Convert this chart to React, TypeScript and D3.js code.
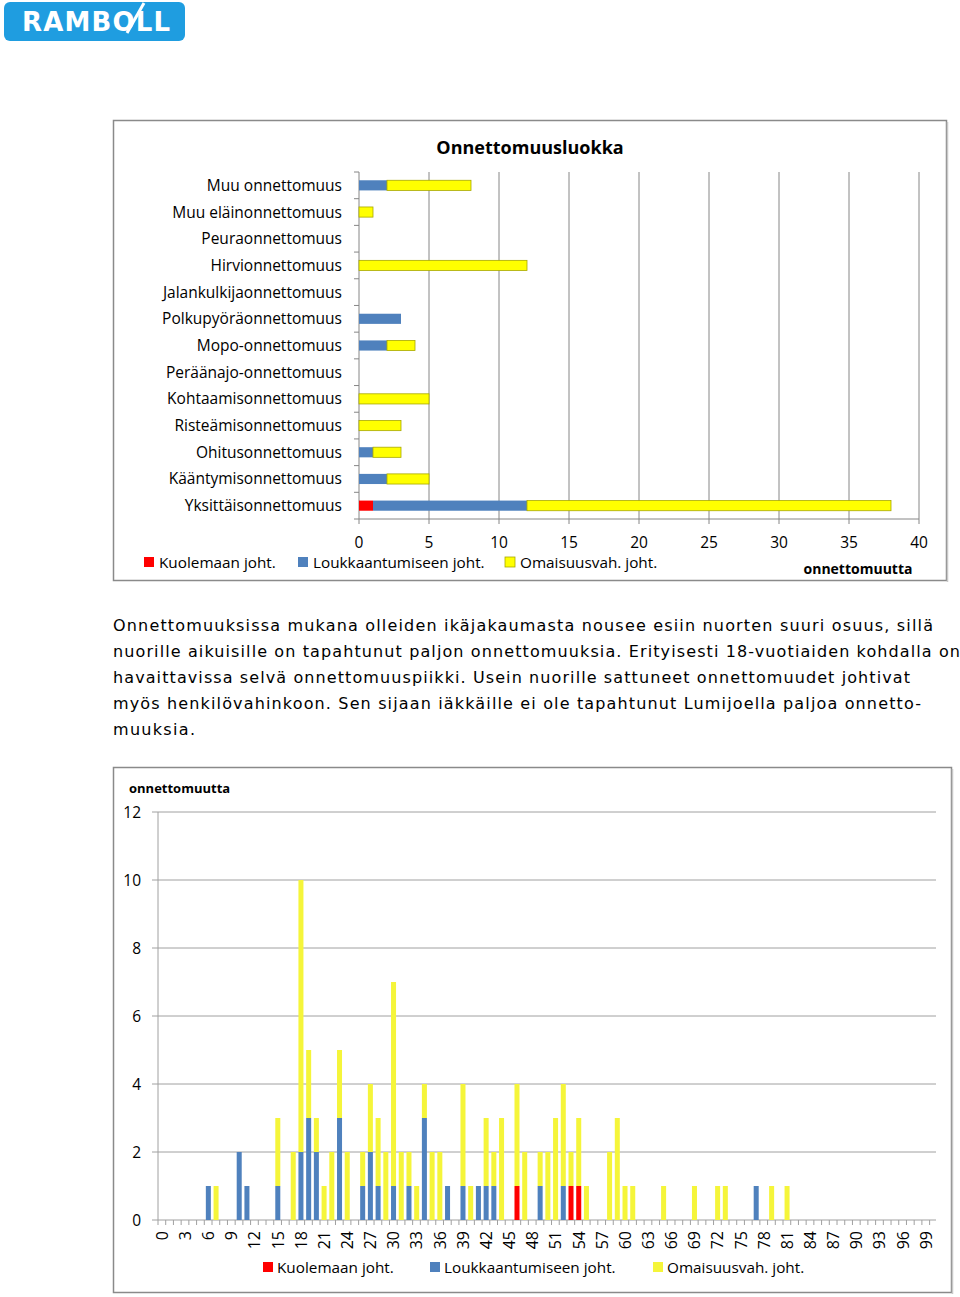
import React from "react";
import * as d3 from "d3";

// ---------- Top chart data ----------
const classCategories = [
  "Muu onnettomuus",
  "Muu eläinonnettomuus",
  "Peuraonnettomuus",
  "Hirvionnettomuus",
  "Jalankulkijaonnettomuus",
  "Polkupyöräonnettomuus",
  "Mopo-onnettomuus",
  "Peräänajo-onnettomuus",
  "Kohtaamisonnettomuus",
  "Risteämisonnettomuus",
  "Ohitusonnettomuus",
  "Kääntymisonnettomuus",
  "Yksittäisonnettomuus",
];
const classDeaths = [0, 0, 0, 0, 0, 0, 0, 0, 0, 0, 0, 0, 1];
const classInjuries = [2, 0, 0, 0, 0, 3, 2, 0, 0, 0, 1, 2, 11];
const classProperty = [6, 1, 0, 12, 0, 0, 2, 0, 5, 3, 2, 3, 26];
const classTicks = [0, 5, 10, 15, 20, 25, 30, 35, 40];

// ---------- Bottom chart data (ages 0..99) ----------
const ages = d3.range(0, 100);
const ageTickLabels = d3.range(0, 100, 3);
const ageYTicks = [0, 2, 4, 6, 8, 10, 12];
// [age, count]
const ageDeaths: [number, number][] = [[46, 1], [53, 1], [54, 1]];
const ageInjuries: [number, number][] = [
  [6, 1], [10, 2], [11, 1], [15, 1], [18, 2], [19, 3], [20, 2], [23, 3], [26, 1], [27, 2],
  [28, 1], [30, 1], [32, 1], [34, 3], [37, 1], [39, 1], [41, 1], [42, 1], [43, 1], [49, 1],
  [52, 1], [77, 1],
];
const ageProperty: [number, number][] = [
  [7, 1], [15, 2], [17, 2], [18, 8], [19, 2], [20, 1], [21, 1], [22, 2], [23, 2], [24, 2],
  [26, 1], [27, 2], [28, 2], [29, 2], [30, 6], [31, 2], [32, 1], [33, 1], [34, 1], [35, 2],
  [36, 2], [39, 3], [40, 1], [42, 2], [43, 1], [44, 3], [46, 3], [47, 2], [49, 1], [50, 2],
  [51, 3], [52, 3], [53, 1], [54, 2], [55, 1], [58, 2], [59, 3], [60, 1], [61, 1], [65, 1],
  [69, 1], [72, 1], [73, 1], [79, 1], [81, 1],
];

const seriesNames = ["Kuolemaan joht.", "Loukkaantumiseen joht.", "Omaisuusvah. joht."];
const seriesColors = ["#ff0000", "#4f81bd", "#ffff00"];

const paragraphLines = [
  "Onnettomuuksissa mukana olleiden ikäjakaumasta nousee esiin nuorten suuri osuus, sillä",
  "nuorille aikuisille on tapahtunut paljon onnettomuuksia. Erityisesti 18-vuotiaiden kohdalla on",
  "havaittavissa selvä onnettomuuspiikki. Usein nuorille sattuneet onnettomuudet johtivat",
  "myös henkilövahinkoon. Sen sijaan iäkkäille ei ole tapahtunut Lumijoella paljoa onnetto-",
  "muuksia.",
];
const paragraphWidths = [820, 847, 797, 808, 82];

const FONT = "'Open Sans', 'Liberation Sans', sans-serif";

function toArray(pairs: [number, number][]) {
  const m = new Map(pairs);
  return ages.map((a) => m.get(a) || 0);
}

function TopChart() {
  const x = d3.scaleLinear().domain([0, 40]).range([359, 919]);
  const y = d3.scaleBand().domain(classCategories).range([172, 519]).paddingInner(0.62).paddingOuter(0.31);
  const rows = classCategories.map((c, i) => [classDeaths[i], classInjuries[i], classProperty[i]]);
  const stacked = d3.stack<number[]>().keys([0, 1, 2] as any).value((d, k: any) => d[k])(rows);
  const step = y.step();
  return (
    <g>
      <rect x={113.5} y={120.5} width={833} height={460} fill="#fff" stroke="#8a8a8a" strokeWidth={1.5} />
      <line x1={947.5} y1={122} x2={947.5} y2={582} stroke="#c8c8c8" strokeWidth={1.5} />
      <text x={530} y={154} textAnchor="middle" fontFamily={FONT} fontWeight="bold" fontSize={18} fill="#000">
        Onnettomuusluokka
      </text>
      {classTicks.slice(1).map((t) => (
        <line key={t} x1={x(t)} x2={x(t)} y1={172} y2={519} stroke="#868686" strokeWidth={1} />
      ))}
      {/* axes */}
      <line x1={359} x2={359} y1={172} y2={519} stroke="#868686" />
      <line x1={359} x2={919} y1={519} y2={519} stroke="#868686" />
      {classCategories.map((c, i) => (
        <line key={c} x1={354} x2={359} y1={172 + i * step} y2={172 + i * step} stroke="#868686" />
      ))}
      <line x1={354} x2={359} y1={519} y2={519} stroke="#868686" />
      {classTicks.map((t) => (
        <line key={"t" + t} x1={x(t)} x2={x(t)} y1={519} y2={524} stroke="#868686" />
      ))}
      {stacked.map((s, si) =>
        s.map((d, i) =>
          d[1] - d[0] > 0 ? (
            <rect
              key={si + "-" + i}
              x={x(d[0])}
              y={y(classCategories[i])!}
              width={x(d[1]) - x(d[0])}
              height={y.bandwidth()}
              fill={seriesColors[si]}
              stroke={si === 2 ? "#a8a800" : "none"}
              strokeWidth={0.8}
            />
          ) : null
        )
      )}
      {classCategories.map((c) => (
        <text key={"l" + c} x={342} y={y(c)! + y.bandwidth() / 2 + 5.5} textAnchor="end" fontFamily={FONT} fontSize={15.5} fill="#000">
          {c}
        </text>
      ))}
      {classTicks.map((t) => (
        <text key={"n" + t} x={x(t)} y={548} textAnchor="middle" fontFamily={FONT} fontSize={15.5} fill="#000">
          {t}
        </text>
      ))}
      {/* legend */}
      {[144, 298, 505].map((lx, i) => (
        <g key={"lg" + i}>
          <rect x={lx} y={557} width={10} height={10} fill={seriesColors[i]} stroke={i === 2 ? "#a8a800" : "none"} strokeWidth={0.8} />
          <text x={lx + 15} y={568} fontFamily={FONT} fontSize={15.3} fill="#000">
            {seriesNames[i]}
          </text>
        </g>
      ))}
      <text x={858} y={574} textAnchor="middle" fontFamily={FONT} fontWeight="bold" fontSize={14} fill="#000">
        onnettomuutta
      </text>
    </g>
  );
}

function BottomChart() {
  const x = d3.scaleBand<number>().domain(ages).range([158, 930]).paddingInner(0.35).paddingOuter(0.2);
  const y = d3.scaleLinear().domain([0, 12]).range([1220, 812]);
  const rows = ages.map((a, i) => [toArray(ageDeaths)[i], toArray(ageInjuries)[i], toArray(ageProperty)[i]]);
  const stacked = d3.stack<number[]>().keys([0, 1, 2] as any).value((d, k: any) => d[k])(rows);
  const step = x.step();
  return (
    <g>
      <rect x={113.5} y={767.5} width={838} height={525} fill="#fff" stroke="#8a8a8a" strokeWidth={1.5} />
      <line x1={952.5} y1={769} x2={952.5} y2={1294} stroke="#c8c8c8" strokeWidth={1.5} />
      <text x={129} y={793} fontFamily={FONT} fontWeight="bold" fontSize={13} fill="#000">
        onnettomuutta
      </text>
      {ageYTicks.map((t) => (
        <g key={"y" + t}>
          {t > 0 && <line x1={158} x2={936} y1={y(t)} y2={y(t)} stroke="#a0a0a0" strokeWidth={1} />}
          <line x1={152} x2={158} y1={y(t)} y2={y(t)} stroke="#a0a0a0" />
          <text x={141} y={y(t) + 5.5} textAnchor="end" fontFamily={FONT} fontSize={15.5} fill="#000">
            {t}
          </text>
        </g>
      ))}
      <line x1={158} x2={158} y1={812} y2={1220} stroke="#a0a0a0" />
      <line x1={158} x2={936} y1={1220} y2={1220} stroke="#a0a0a0" />
      {ages.map((a) => (
        <line key={"xt" + a} x1={158 + a * step} x2={158 + a * step} y1={1220} y2={1225} stroke="#a0a0a0" />
      ))}
      <line x1={158 + 100 * step} x2={158 + 100 * step} y1={1220} y2={1225} stroke="#a0a0a0" />
      {stacked.map((s, si) =>
        s.map((d, i) =>
          d[1] - d[0] > 0 ? (
            <rect
              key={si + "-" + i}
              x={x(ages[i])!}
              y={y(d[1])}
              width={x.bandwidth()}
              height={y(d[0]) - y(d[1])}
              fill={si === 2 ? "#f5f53a" : seriesColors[si]}
            />
          ) : null
        )
      )}
      {ageTickLabels.map((a) => {
        const cx = x(a)! + x.bandwidth() / 2;
        return (
          <text
            key={"xl" + a}
            transform={`translate(${cx + 5.8},1231) rotate(-90)`}
            textAnchor="end"
            fontFamily={FONT}
            fontSize={16}
            fill="#000"
          >
            {a}
          </text>
        );
      })}
      {[263, 430, 653].map((lx, i) => (
        <g key={"blg" + i}>
          <rect x={lx} y={1262} width={10} height={10} fill={i === 2 ? "#f5f53a" : seriesColors[i]} />
          <text x={lx + 14} y={1273} fontFamily={FONT} fontSize={15.3} fill="#000">
            {seriesNames[i]}
          </text>
        </g>
      ))}
    </g>
  );
}

export default function App() {
  return (
    <div style={{ position: "absolute", left: 0, top: 0 }}>
      <svg width={960} height={1297} viewBox="0 0 960 1297" style={{ display: "block", background: "#fff" }}>
        {/* Logo */}
        <rect x={4} y={2} width={181} height={39} rx={6} fill="#1f9de0" />
        <text x={22} y={31} fontFamily="'DejaVu Sans', sans-serif" fontWeight="bold" fontSize={26} fill="#fff" textLength={148} lengthAdjust="spacing">
          RAMBOLL
        </text>
        <line x1={127} y1={33} x2={144} y2={3} stroke="#fff" strokeWidth={3} />
        <TopChart />
        {paragraphLines.map((l, i) => (
          <text
            key={i}
            x={113}
            y={631 + i * 26}
            fontFamily="'DejaVu Sans', Verdana, sans-serif"
            fontSize={16}
            fill="#000"
            textLength={paragraphWidths[i]}
            lengthAdjust="spacing"
          >
            {l}
          </text>
        ))}
        <BottomChart />
      </svg>
    </div>
  );
}
